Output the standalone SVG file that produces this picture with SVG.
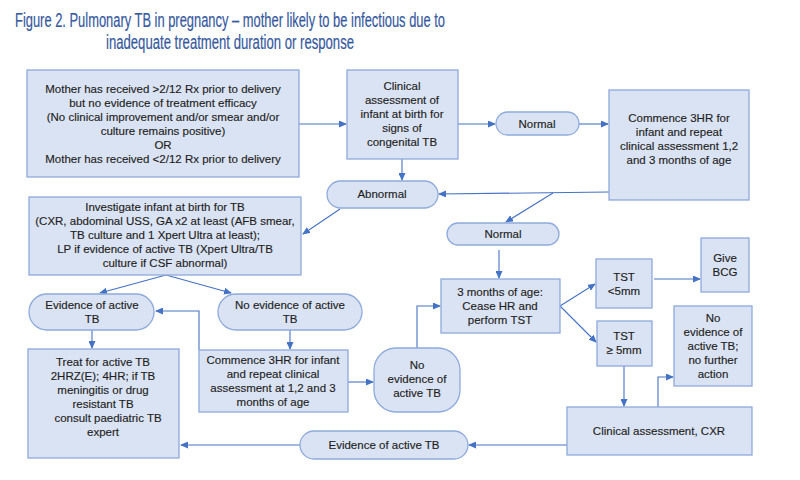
<svg xmlns="http://www.w3.org/2000/svg" width="800" height="480" viewBox="0 0 800 480">
<style>
.box{fill:#dae3f3;stroke:#8faadc;stroke-width:1.3}
.t{font-family:"Liberation Sans",Arial,sans-serif;font-size:11.5px;fill:#1e1e1e;stroke:#1e1e1e;stroke-width:0.15;text-anchor:middle}
.title{font-family:"Liberation Sans",Arial,sans-serif;font-size:20px;fill:#35589e;stroke:#35589e;stroke-width:0.2}
.c{fill:none;stroke:#4472c4;stroke-width:1.1}
</style>
<defs>
<marker id="ah" markerWidth="8" markerHeight="7" refX="7" refY="3.5" orient="auto" markerUnits="userSpaceOnUse">
<path d="M0,0 L8,3.5 L0,7 z" fill="#4472c4"/>
</marker>
</defs>
<rect width="800" height="480" fill="#fff"/>
<g id="title">
<text class="title" x="15" y="27" textLength="430" lengthAdjust="spacingAndGlyphs">Figure 2. Pulmonary TB in pregnancy – mother likely to be infectious due to</text>
<text class="title" x="106" y="49" textLength="248" lengthAdjust="spacingAndGlyphs">inadequate treatment duration or response</text>
</g>
<g id="connectors">
<path class="c" d="M299,124 L346,124" marker-end="url(#ah)"/>
<path class="c" d="M458,124 L495,124" marker-end="url(#ah)"/>
<path class="c" d="M579,124 L608,124" marker-end="url(#ah)"/>
<path class="c" d="M402,159 L402,180" marker-end="url(#ah)"/>
<path class="c" d="M609,192 L439,194" marker-end="url(#ah)"/>
<path class="c" d="M553,193 L506,222" marker-end="url(#ah)"/>
<path class="c" d="M340,209 L303,234" marker-end="url(#ah)"/>
<path class="c" d="M499,250 L499,278" marker-end="url(#ah)"/>
<path class="c" d="M166,275 L100,293" marker-end="url(#ah)"/>
<path class="c" d="M166,275 L231,293" marker-end="url(#ah)"/>
<path class="c" d="M92,330 L92,348" marker-end="url(#ah)"/>
<path class="c" d="M290,330 L290,349" marker-end="url(#ah)"/>
<path class="c" d="M199,350 L199,311 L156,311" marker-end="url(#ah)"/>
<path class="c" d="M348,382 L373,382" marker-end="url(#ah)"/>
<path class="c" d="M417,348 L417,306 L440,306" marker-end="url(#ah)"/>
<path class="c" d="M560,306 L595,284" marker-end="url(#ah)"/>
<path class="c" d="M560,306 L596,342" marker-end="url(#ah)"/>
<path class="c" d="M654,279 L700,279" marker-end="url(#ah)"/>
<path class="c" d="M624,366 L624,406" marker-end="url(#ah)"/>
<path class="c" d="M658,407 L658,377 L673,377" marker-end="url(#ah)"/>
<path class="c" d="M567,445 L469,445" marker-end="url(#ah)"/>
<path class="c" d="M300,445 L181,445" marker-end="url(#ah)"/>
</g>
<g id="mother">
<rect class="box" x="27" y="70" width="272" height="107"/>
<text class="t" x="163" y="93">Mother has received &gt;2/12 Rx prior to delivery</text>
<text class="t" x="163" y="107">but no evidence of treatment efficacy</text>
<text class="t" x="163" y="121">(No clinical improvement and/or smear and/or</text>
<text class="t" x="163" y="135">culture remains positive)</text>
<text class="t" x="163" y="149">OR</text>
<text class="t" x="163" y="163">Mother has received &lt;2/12 Rx prior to delivery</text>
</g>
<g id="clinical-birth">
<rect class="box" x="347" y="70" width="111" height="89"/>
<text class="t" x="402" y="90">Clinical</text>
<text class="t" x="402" y="104">assessment of</text>
<text class="t" x="402" y="118">infant at birth for</text>
<text class="t" x="402" y="132">signs of</text>
<text class="t" x="402" y="146">congenital TB</text>
</g>
<g id="normal1">
<rect class="box" x="496" y="112" width="83" height="23" rx="11.5"/>
<text class="t" x="537" y="128">Normal</text>
</g>
<g id="commence1">
<rect class="box" x="609" y="90" width="140" height="110"/>
<text class="t" x="679" y="122">Commence 3HR for</text>
<text class="t" x="679" y="136">infant and repeat</text>
<text class="t" x="679" y="150">clinical assessment 1,2</text>
<text class="t" x="679" y="164">and 3 months of age</text>
</g>
<g id="abnormal">
<rect class="box" x="327" y="181" width="111" height="27" rx="13.5"/>
<text class="t" x="382" y="198">Abnormal</text>
</g>
<g id="investigate">
<rect class="box" x="29" y="197" width="272" height="78"/>
<text class="t" x="165" y="211">Investigate infant at birth for TB</text>
<text class="t" x="165" y="225">(CXR, abdominal USS, GA x2 at least (AFB smear,</text>
<text class="t" x="165" y="239">TB culture and 1 Xpert Ultra at least);</text>
<text class="t" x="165" y="253">LP if evidence of active TB (Xpert Ultra/TB</text>
<text class="t" x="165" y="267">culture if CSF abnormal)</text>
</g>
<g id="normal2">
<rect class="box" x="447" y="223" width="112" height="22" rx="11"/>
<text class="t" x="503" y="238">Normal</text>
</g>
<g id="evidence1">
<rect class="box" x="29" y="294" width="125" height="36" rx="18"/>
<text class="t" x="92" y="309">Evidence of active</text>
<text class="t" x="92" y="323">TB</text>
</g>
<g id="noevidence1">
<rect class="box" x="218" y="294" width="144" height="36" rx="18"/>
<text class="t" x="290" y="309">No evidence of active</text>
<text class="t" x="290" y="323">TB</text>
</g>
<g id="treat">
<rect class="box" x="28" y="349" width="151" height="109"/>
<text class="t" x="103" y="366">Treat for active TB</text>
<text class="t" x="103" y="380">2HRZ(E); 4HR; if TB</text>
<text class="t" x="103" y="394">meningitis or drug</text>
<text class="t" x="103" y="408">resistant TB</text>
<text class="t" x="108" y="422">consult paediatric TB</text>
<text class="t" x="103" y="436">expert</text>
</g>
<g id="commence2">
<rect class="box" x="199" y="350" width="149" height="62"/>
<text class="t" x="273" y="364">Commence 3HR for infant</text>
<text class="t" x="273" y="378">and repeat clinical</text>
<text class="t" x="273" y="392">assessment at 1,2 and 3</text>
<text class="t" x="273" y="406">months of age</text>
</g>
<g id="noevidence2">
<rect class="box" x="374" y="348" width="86" height="64" rx="22"/>
<text class="t" x="417" y="369">No</text>
<text class="t" x="417" y="383">evidence of</text>
<text class="t" x="417" y="397">active TB</text>
</g>
<g id="three-months">
<rect class="box" x="441" y="279" width="119" height="54"/>
<text class="t" x="500" y="296">3 months of age:</text>
<text class="t" x="500" y="310">Cease HR and</text>
<text class="t" x="500" y="324">perform TST</text>
</g>
<g id="tst-lt5">
<rect class="box" x="596" y="259" width="56" height="49"/>
<text class="t" x="624" y="281">TST</text>
<text class="t" x="624" y="295">&lt;5mm</text>
</g>
<g id="tst-ge5">
<rect class="box" x="597" y="321" width="55" height="45"/>
<text class="t" x="624" y="340">TST</text>
<text class="t" x="624" y="354">≥ 5mm</text>
</g>
<g id="bcg">
<rect class="box" x="701" y="238" width="48" height="54"/>
<text class="t" x="725" y="262">Give</text>
<text class="t" x="725" y="276">BCG</text>
</g>
<g id="no-further">
<rect class="box" x="674" y="306" width="78" height="80"/>
<text class="t" x="713" y="322">No</text>
<text class="t" x="713" y="336">evidence of</text>
<text class="t" x="713" y="350">active TB;</text>
<text class="t" x="713" y="364">no further</text>
<text class="t" x="713" y="378">action</text>
</g>
<g id="cxr">
<rect class="box" x="567" y="407" width="185" height="48"/>
<text class="t" x="659" y="435">Clinical assessment, CXR</text>
</g>
<g id="evidence2">
<rect class="box" x="300" y="431" width="168" height="28" rx="14"/>
<text class="t" x="384" y="449">Evidence of active TB</text>
</g>
</svg>
